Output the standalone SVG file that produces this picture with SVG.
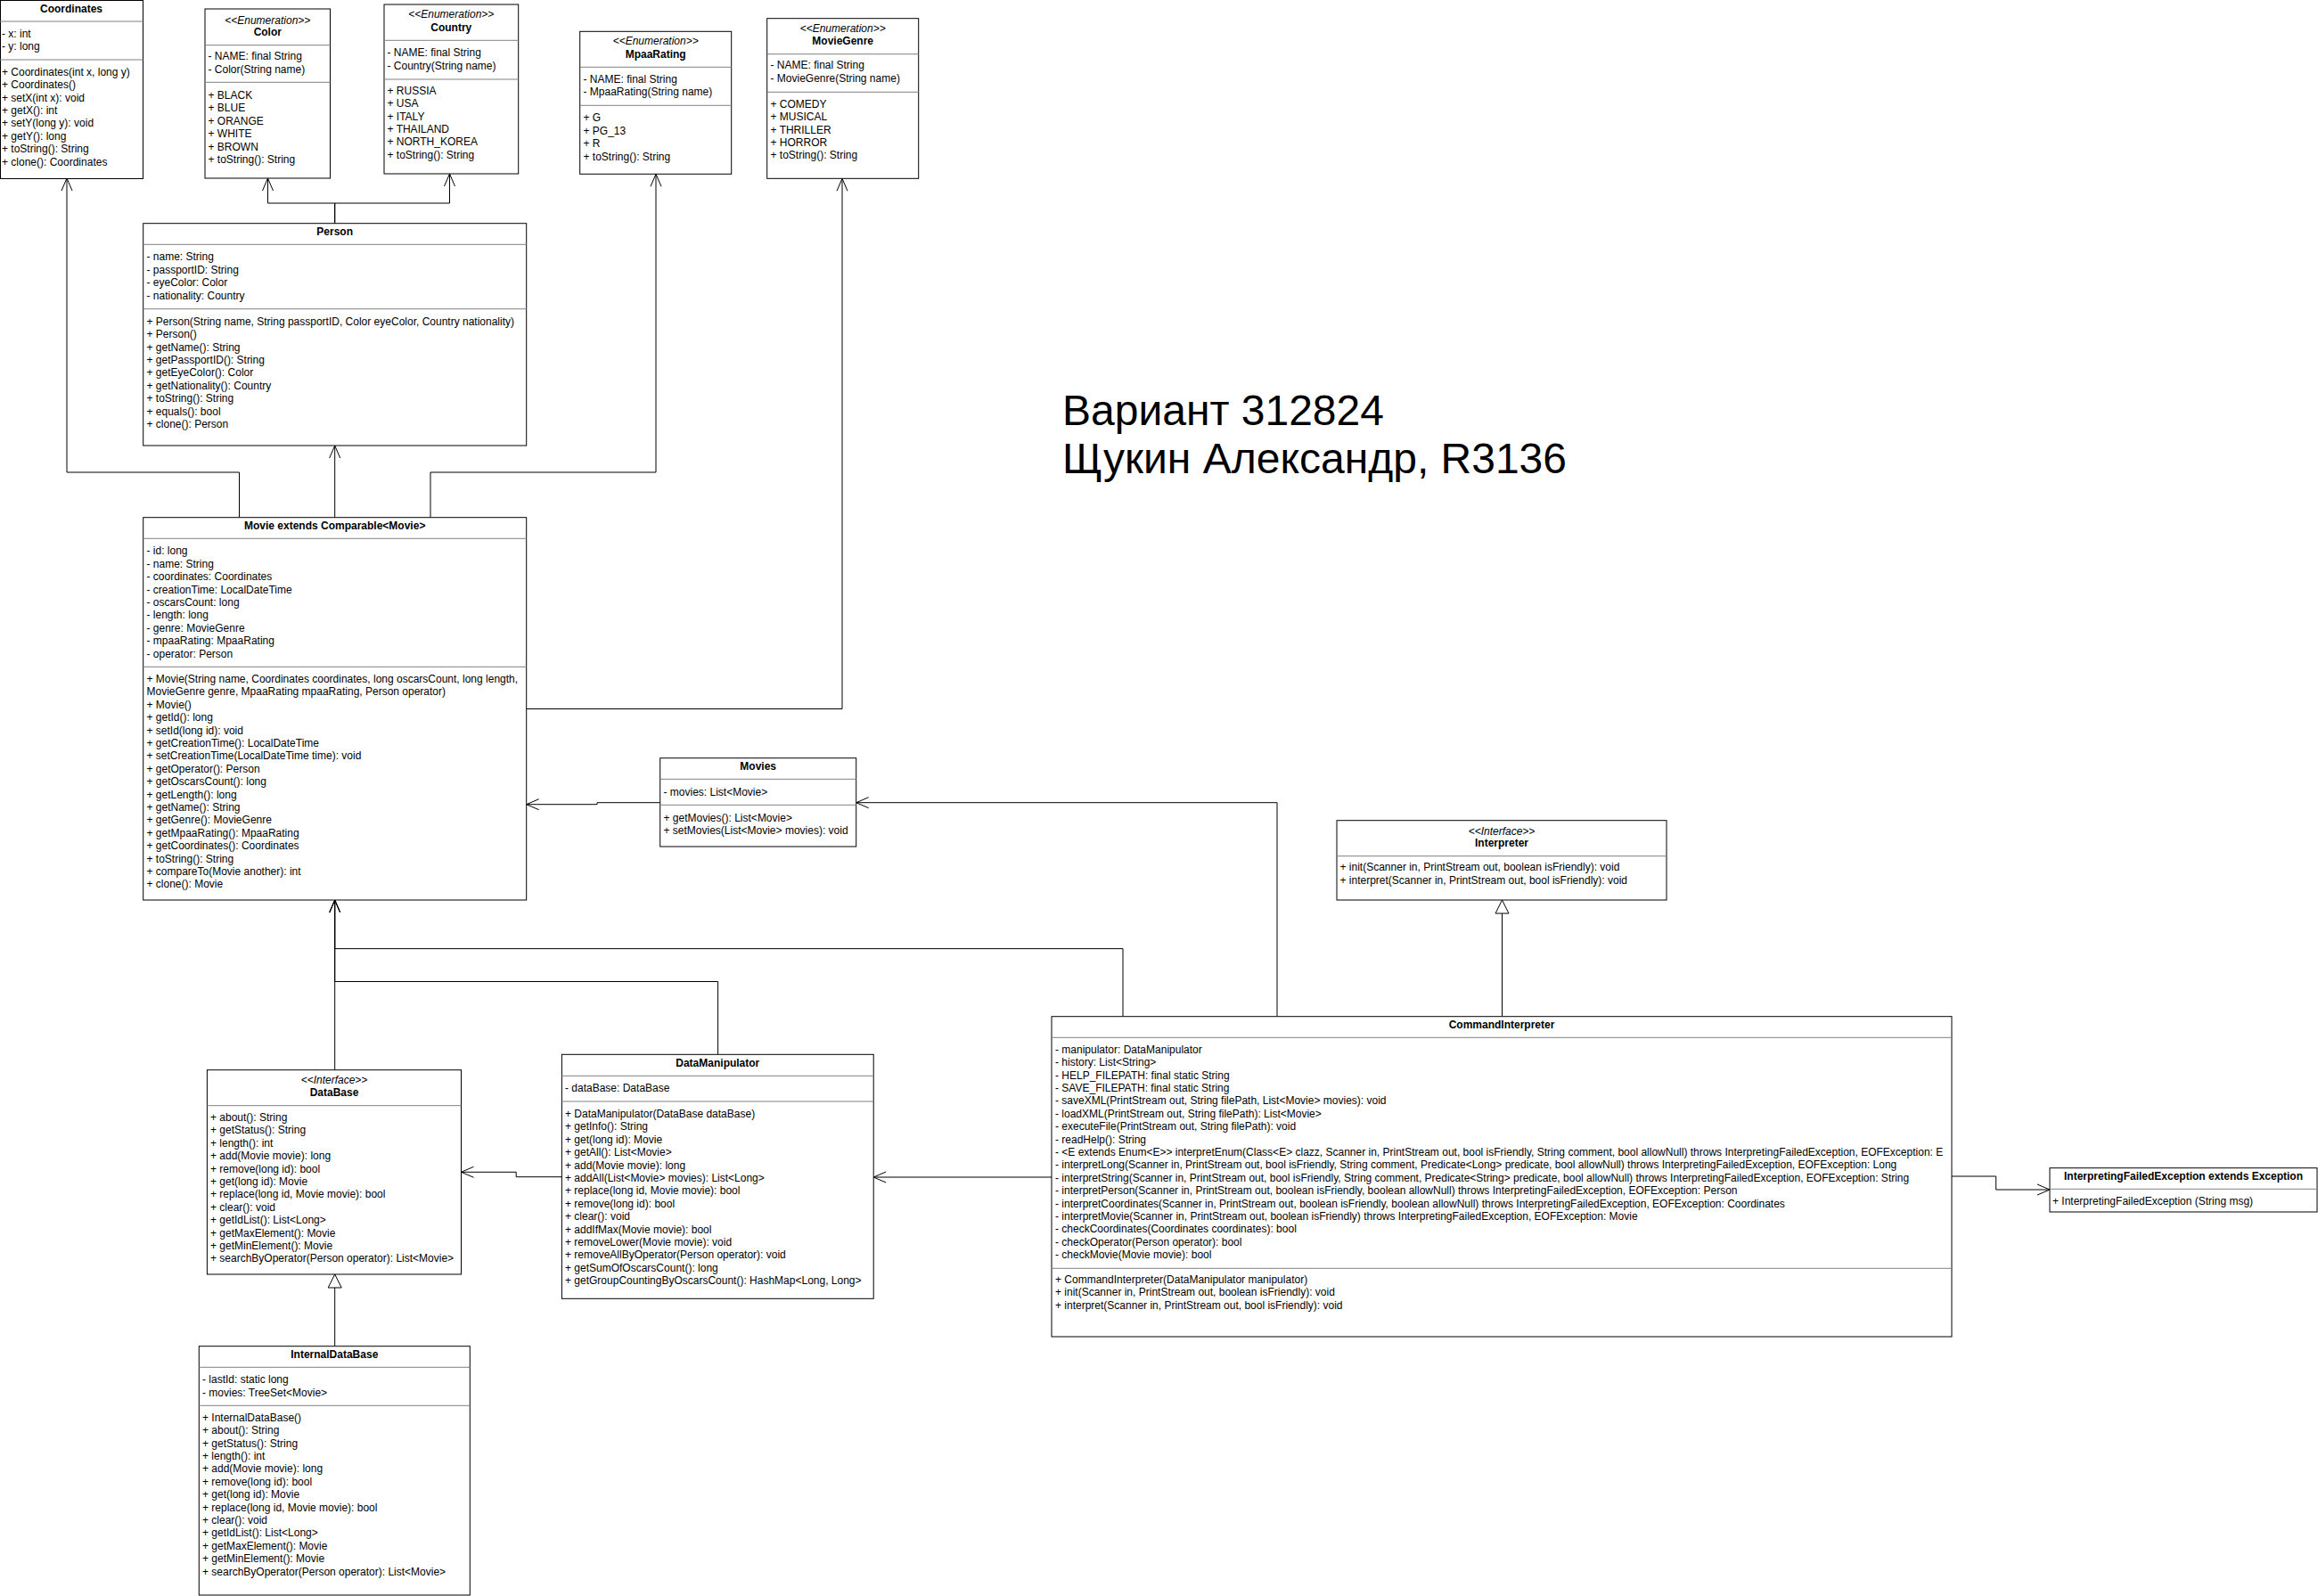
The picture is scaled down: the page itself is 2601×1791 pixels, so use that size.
<svg xmlns="http://www.w3.org/2000/svg" width="2601" height="1791" viewBox="0 0 2601 1791">
<style>
.box{fill:#fff;stroke:#000;stroke-width:1}
.sep{stroke:#808080;stroke-width:1}
text{font-family:"Liberation Sans",Arial,Helvetica,sans-serif;font-size:12px;fill:#000}
.b{font-weight:bold;text-anchor:middle}
.i{font-style:italic;text-anchor:middle}
.edge{fill:none;stroke:#000;stroke-width:1}
.open{marker-end:url(#open)}
.inh{marker-end:url(#tri)}
.title{font-size:48px}
</style>
<defs>
<marker id="open" markerUnits="userSpaceOnUse" markerWidth="16" markerHeight="14" refX="14" refY="6.5" orient="auto" overflow="visible">
<path d="M0,0.5 L14,6.5 L0,12.5" fill="none" stroke="#000" stroke-width="1"/>
</marker>
<marker id="tri" markerUnits="userSpaceOnUse" markerWidth="17" markerHeight="17" refX="15" refY="7.5" orient="auto" overflow="visible">
<path d="M0,0 L15,7.5 L0,15 Z" fill="#fff" stroke="#000" stroke-width="1"/>
</marker>
</defs>

<g id="connectors">
<path class="edge open" d="M268.5,580.7 V530 H75 V200"/>
<path class="edge open" d="M483,580.7 V530 H736 V195.3"/>
<path class="edge open" d="M375.7,580.7 V500"/>
<path class="edge open" d="M375.7,250.7 V228 H300.5 V200"/>
<path class="edge open" d="M375.7,250.7 V228 H504.5 V195"/>
<path class="edge open" d="M590.7,795.5 H945 V200.3"/>
<path class="edge open" d="M740.7,900.7 H670 V902.7 H590.7"/>
<path class="edge open" d="M1433,1140.7 V900.7 H960.7"/>
<path class="edge inh" d="M1685.5,1140.7 V1010"/>
<path class="edge open" d="M1260,1140.7 V1064.6 H375.7 V1010"/>
<path class="edge open" d="M805.6,1183.3 V1101.5 H375.7 V1010"/>
<path class="edge open" d="M375.7,1200.7 V1010"/>
<path class="edge open" d="M1180,1321 H980.2"/>
<path class="edge open" d="M630.4,1320.7 H579.2 V1315.3 H517.5"/>
<path class="edge inh" d="M375.7,1510.7 V1430"/>
<path class="edge open" d="M2190,1320 H2239.7 V1335 H2300"/>
</g>

<g id="Coordinates">
<rect class="box" x="0.5" y="0.5" width="160" height="200"/>
<line class="sep" x1="0" y1="24" x2="160.5" y2="24"/>
<line class="sep" x1="0" y1="67" x2="160.5" y2="67"/>
<text class="b" x="80" y="14">Coordinates</text>
<text x="2"><tspan x="2" y="41.7">- x: int</tspan><tspan x="2" y="56.2">- y: long</tspan></text>
<text x="2"><tspan x="2" y="84.7">+ Coordinates(int x, long y)</tspan><tspan x="2" y="99.1">+ Coordinates()</tspan><tspan x="2" y="113.5">+ setX(int x): void</tspan><tspan x="2" y="127.9">+ getX(): int</tspan><tspan x="2" y="142.3">+ setY(long y): void</tspan><tspan x="2" y="156.7">+ getY(): long</tspan><tspan x="2" y="171.1">+ toString(): String</tspan><tspan x="2" y="185.5">+ clone(): Coordinates</tspan></text>
</g>

<g id="Color">
<rect class="box" x="230" y="10" width="140.5" height="190"/>
<line class="sep" x1="230" y1="50.7" x2="370.5" y2="50.7"/>
<line class="sep" x1="230" y1="92.3" x2="370.5" y2="92.3"/>
<text class="i" x="300.3" y="26.7">&lt;&lt;Enumeration&gt;&gt;</text>
<text class="b" x="300.3" y="40">Color</text>
<text><tspan x="233.5" y="67.3">- NAME: final String</tspan><tspan x="233.5" y="81.7">- Color(String name)</tspan></text>
<text><tspan x="233.5" y="111">+ BLACK</tspan><tspan x="233.5" y="125.4">+ BLUE</tspan><tspan x="233.5" y="139.8">+ ORANGE</tspan><tspan x="233.5" y="154.2">+ WHITE</tspan><tspan x="233.5" y="168.6">+ BROWN</tspan><tspan x="233.5" y="183">+ toString(): String</tspan></text>
</g>

<g id="Country">
<rect class="box" x="431" y="5" width="150.7" height="190"/>
<line class="sep" x1="431" y1="45.3" x2="581.7" y2="45.3"/>
<line class="sep" x1="431" y1="89" x2="581.7" y2="89"/>
<text class="i" x="506.3" y="19.7">&lt;&lt;Enumeration&gt;&gt;</text>
<text class="b" x="506.3" y="35">Country</text>
<text><tspan x="434.5" y="63">- NAME: final String</tspan><tspan x="434.5" y="77.5">- Country(String name)</tspan></text>
<text><tspan x="434.5" y="105.7">+ RUSSIA</tspan><tspan x="434.5" y="120.1">+ USA</tspan><tspan x="434.5" y="134.5">+ ITALY</tspan><tspan x="434.5" y="148.9">+ THAILAND</tspan><tspan x="434.5" y="163.3">+ NORTH_KOREA</tspan><tspan x="434.5" y="177.7">+ toString(): String</tspan></text>
</g>

<g id="MpaaRating">
<rect class="box" x="650.7" y="35.3" width="170" height="160"/>
<line class="sep" x1="650.7" y1="75.3" x2="820.7" y2="75.3"/>
<line class="sep" x1="650.7" y1="118.3" x2="820.7" y2="118.3"/>
<text class="i" x="735.7" y="49.7">&lt;&lt;Enumeration&gt;&gt;</text>
<text class="b" x="735.7" y="65.3">MpaaRating</text>
<text><tspan x="654.5" y="92.7">- NAME: final String</tspan><tspan x="654.5" y="107.1">- MpaaRating(String name)</tspan></text>
<text><tspan x="654.5" y="136.3">+ G</tspan><tspan x="654.5" y="150.7">+ PG_13</tspan><tspan x="654.5" y="165.1">+ R</tspan><tspan x="654.5" y="179.5">+ toString(): String</tspan></text>
</g>

<g id="MovieGenre">
<rect class="box" x="860.7" y="20.7" width="170" height="179.6"/>
<line class="sep" x1="860.7" y1="60.7" x2="1030.7" y2="60.7"/>
<line class="sep" x1="860.7" y1="103.3" x2="1030.7" y2="103.3"/>
<text class="i" x="945.7" y="35.7">&lt;&lt;Enumeration&gt;&gt;</text>
<text class="b" x="945.7" y="50">MovieGenre</text>
<text><tspan x="864.5" y="77.3">- NAME: final String</tspan><tspan x="864.5" y="91.7">- MovieGenre(String name)</tspan></text>
<text><tspan x="864.5" y="120.7">+ COMEDY</tspan><tspan x="864.5" y="135.1">+ MUSICAL</tspan><tspan x="864.5" y="149.5">+ THRILLER</tspan><tspan x="864.5" y="163.9">+ HORROR</tspan><tspan x="864.5" y="178.3">+ toString(): String</tspan></text>
</g>

<g id="Person">
<rect class="box" x="160.7" y="250.7" width="430" height="249.3"/>
<line class="sep" x1="160.7" y1="274.3" x2="590.7" y2="274.3"/>
<line class="sep" x1="160.7" y1="346.7" x2="590.7" y2="346.7"/>
<text class="b" x="375.7" y="264">Person</text>
<text><tspan x="164.5" y="292.3">- name: String</tspan><tspan x="164.5" y="306.7">- passportID: String</tspan><tspan x="164.5" y="321.1">- eyeColor: Color</tspan><tspan x="164.5" y="335.5">- nationality: Country</tspan></text>
<text><tspan x="164.5" y="364.7">+ Person(String name, String passportID, Color eyeColor, Country nationality)</tspan><tspan x="164.5" y="379.1">+ Person()</tspan><tspan x="164.5" y="393.5">+ getName(): String</tspan><tspan x="164.5" y="407.9">+ getPassportID(): String</tspan><tspan x="164.5" y="422.3">+ getEyeColor(): Color</tspan><tspan x="164.5" y="436.7">+ getNationality(): Country</tspan><tspan x="164.5" y="451.1">+ toString(): String</tspan><tspan x="164.5" y="465.5">+ equals(): bool</tspan><tspan x="164.5" y="479.9">+ clone(): Person</tspan></text>
</g>

<g id="Movie">
<rect class="box" x="160.7" y="580.7" width="430" height="429.3"/>
<line class="sep" x1="160.7" y1="604.3" x2="590.7" y2="604.3"/>
<line class="sep" x1="160.7" y1="748.3" x2="590.7" y2="748.3"/>
<text class="b" x="375.7" y="594">Movie extends Comparable&lt;Movie&gt;</text>
<text><tspan x="164.5" y="622.3">- id: long</tspan><tspan x="164.5" y="636.7">- name: String</tspan><tspan x="164.5" y="651.1">- coordinates: Coordinates</tspan><tspan x="164.5" y="665.5">- creationTime: LocalDateTime</tspan><tspan x="164.5" y="679.9">- oscarsCount: long</tspan><tspan x="164.5" y="694.3">- length: long</tspan><tspan x="164.5" y="708.7">- genre: MovieGenre</tspan><tspan x="164.5" y="723.1">- mpaaRating: MpaaRating</tspan><tspan x="164.5" y="737.5">- operator: Person</tspan></text>
<text><tspan x="164.5" y="766">+ Movie(String name, Coordinates coordinates, long oscarsCount, long length,</tspan><tspan x="164.5" y="780.4">MovieGenre genre, MpaaRating mpaaRating, Person operator)</tspan><tspan x="164.5" y="794.8">+ Movie()</tspan><tspan x="164.5" y="809.2">+ getId(): long</tspan><tspan x="164.5" y="823.6">+ setId(long id): void</tspan><tspan x="164.5" y="838">+ getCreationTime(): LocalDateTime</tspan><tspan x="164.5" y="852.4">+ setCreationTime(LocalDateTime time): void</tspan><tspan x="164.5" y="866.8">+ getOperator(): Person</tspan><tspan x="164.5" y="881.2">+ getOscarsCount(): long</tspan><tspan x="164.5" y="895.6">+ getLength(): long</tspan><tspan x="164.5" y="910">+ getName(): String</tspan><tspan x="164.5" y="924.4">+ getGenre(): MovieGenre</tspan><tspan x="164.5" y="938.8">+ getMpaaRating(): MpaaRating</tspan><tspan x="164.5" y="953.2">+ getCoordinates(): Coordinates</tspan><tspan x="164.5" y="967.6">+ toString(): String</tspan><tspan x="164.5" y="982">+ compareTo(Movie another): int</tspan><tspan x="164.5" y="996.4">+ clone(): Movie</tspan></text>
</g>

<g id="Movies">
<rect class="box" x="740.7" y="850.7" width="220" height="99.3"/>
<line class="sep" x1="740.7" y1="874.3" x2="960.7" y2="874.3"/>
<line class="sep" x1="740.7" y1="903.3" x2="960.7" y2="903.3"/>
<text class="b" x="850.7" y="864">Movies</text>
<text><tspan x="744.5" y="893.3">- movies: List&lt;Movie&gt;</tspan></text>
<text><tspan x="744.5" y="921.7">+ getMovies(): List&lt;Movie&gt;</tspan><tspan x="744.5" y="936.1">+ setMovies(List&lt;Movie&gt; movies): void</tspan></text>
</g>

<g id="Interpreter">
<rect class="box" x="1500" y="920.7" width="370" height="89.3"/>
<line class="sep" x1="1500" y1="960.7" x2="1870" y2="960.7"/>
<text class="i" x="1685" y="936.7">&lt;&lt;Interface&gt;&gt;</text>
<text class="b" x="1685" y="950">Interpreter</text>
<text><tspan x="1503.5" y="977.3">+ init(Scanner in, PrintStream out, boolean isFriendly): void</tspan><tspan x="1503.5" y="991.7">+ interpret(Scanner in, PrintStream out, bool isFriendly): void</tspan></text>
</g>

<g id="DataBase">
<rect class="box" x="232.4" y="1200.7" width="285.1" height="229.3"/>
<line class="sep" x1="232.4" y1="1240.7" x2="517.5" y2="1240.7"/>
<text class="i" x="375" y="1215.7">&lt;&lt;Interface&gt;&gt;</text>
<text class="b" x="375" y="1230">DataBase</text>
<text><tspan x="236" y="1258">+ about(): String</tspan><tspan x="236" y="1272.4">+ getStatus(): String</tspan><tspan x="236" y="1286.8">+ length(): int</tspan><tspan x="236" y="1301.2">+ add(Movie movie): long</tspan><tspan x="236" y="1315.6">+ remove(long id): bool</tspan><tspan x="236" y="1330">+ get(long id): Movie</tspan><tspan x="236" y="1344.4">+ replace(long id, Movie movie): bool</tspan><tspan x="236" y="1358.8">+ clear(): void</tspan><tspan x="236" y="1373.2">+ getIdList(): List&lt;Long&gt;</tspan><tspan x="236" y="1387.6">+ getMaxElement(): Movie</tspan><tspan x="236" y="1402">+ getMinElement(): Movie</tspan><tspan x="236" y="1416.4">+ searchByOperator(Person operator): List&lt;Movie&gt;</tspan></text>
</g>

<g id="DataManipulator">
<rect class="box" x="630.4" y="1183.3" width="349.8" height="274"/>
<line class="sep" x1="630.4" y1="1207.3" x2="980.2" y2="1207.3"/>
<line class="sep" x1="630.4" y1="1236" x2="980.2" y2="1236"/>
<text class="b" x="805.3" y="1196.7">DataManipulator</text>
<text><tspan x="634" y="1225">- dataBase: DataBase</tspan></text>
<text><tspan x="634" y="1254">+ DataManipulator(DataBase dataBase)</tspan><tspan x="634" y="1268.4">+ getInfo(): String</tspan><tspan x="634" y="1282.8">+ get(long id): Movie</tspan><tspan x="634" y="1297.2">+ getAll(): List&lt;Movie&gt;</tspan><tspan x="634" y="1311.6">+ add(Movie movie): long</tspan><tspan x="634" y="1326">+ addAll(List&lt;Movie&gt; movies): List&lt;Long&gt;</tspan><tspan x="634" y="1340.4">+ replace(long id, Movie movie): bool</tspan><tspan x="634" y="1354.8">+ remove(long id): bool</tspan><tspan x="634" y="1369.2">+ clear(): void</tspan><tspan x="634" y="1383.6">+ addIfMax(Movie movie): bool</tspan><tspan x="634" y="1398">+ removeLower(Movie movie): void</tspan><tspan x="634" y="1412.4">+ removeAllByOperator(Person operator): void</tspan><tspan x="634" y="1426.8">+ getSumOfOscarsCount(): long</tspan><tspan x="634" y="1441.2">+ getGroupCountingByOscarsCount(): HashMap&lt;Long, Long&gt;</tspan></text>
</g>

<g id="InternalDataBase">
<rect class="box" x="223.3" y="1510.7" width="304" height="279.3"/>
<line class="sep" x1="223.3" y1="1534.3" x2="527.3" y2="1534.3"/>
<line class="sep" x1="223.3" y1="1577.3" x2="527.3" y2="1577.3"/>
<text class="b" x="375.3" y="1524">InternalDataBase</text>
<text><tspan x="227" y="1552.3">- lastId: static long</tspan><tspan x="227" y="1566.7">- movies: TreeSet&lt;Movie&gt;</tspan></text>
<text><tspan x="227" y="1594.7">+ InternalDataBase()</tspan><tspan x="227" y="1609.1">+ about(): String</tspan><tspan x="227" y="1623.5">+ getStatus(): String</tspan><tspan x="227" y="1637.9">+ length(): int</tspan><tspan x="227" y="1652.3">+ add(Movie movie): long</tspan><tspan x="227" y="1666.7">+ remove(long id): bool</tspan><tspan x="227" y="1681.1">+ get(long id): Movie</tspan><tspan x="227" y="1695.5">+ replace(long id, Movie movie): bool</tspan><tspan x="227" y="1709.9">+ clear(): void</tspan><tspan x="227" y="1724.3">+ getIdList(): List&lt;Long&gt;</tspan><tspan x="227" y="1738.7">+ getMaxElement(): Movie</tspan><tspan x="227" y="1753.1">+ getMinElement(): Movie</tspan><tspan x="227" y="1767.5">+ searchByOperator(Person operator): List&lt;Movie&gt;</tspan></text>
</g>

<g id="CommandInterpreter">
<rect class="box" x="1180" y="1140.7" width="1010" height="359.3"/>
<line class="sep" x1="1180" y1="1164.3" x2="2190" y2="1164.3"/>
<line class="sep" x1="1180" y1="1423.3" x2="2190" y2="1423.3"/>
<text class="b" x="1685" y="1154">CommandInterpreter</text>
<text><tspan x="1184" y="1181.7">- manipulator: DataManipulator</tspan><tspan x="1184" y="1196.1">- history: List&lt;String&gt;</tspan><tspan x="1184" y="1210.5">- HELP_FILEPATH: final static String</tspan><tspan x="1184" y="1224.9">- SAVE_FILEPATH: final static String</tspan><tspan x="1184" y="1239.3">- saveXML(PrintStream out, String filePath, List&lt;Movie&gt; movies): void</tspan><tspan x="1184" y="1253.7">- loadXML(PrintStream out, String filePath): List&lt;Movie&gt;</tspan><tspan x="1184" y="1268.1">- executeFile(PrintStream out, String filePath): void</tspan><tspan x="1184" y="1282.5">- readHelp(): String</tspan><tspan x="1184" y="1296.9">- &lt;E extends Enum&lt;E&gt;&gt; interpretEnum(Class&lt;E&gt; clazz, Scanner in, PrintStream out, bool isFriendly, String comment, bool allowNull) throws InterpretingFailedException, EOFException: E</tspan><tspan x="1184" y="1311.3">- interpretLong(Scanner in, PrintStream out, bool isFriendly, String comment, Predicate&lt;Long&gt; predicate, bool allowNull) throws InterpretingFailedException, EOFException: Long</tspan><tspan x="1184" y="1325.7">- interpretString(Scanner in, PrintStream out, bool isFriendly, String comment, Predicate&lt;String&gt; predicate, bool allowNull) throws InterpretingFailedException, EOFException: String</tspan><tspan x="1184" y="1340.1">- interpretPerson(Scanner in, PrintStream out, boolean isFriendly, boolean allowNull) throws InterpretingFailedException, EOFException: Person</tspan><tspan x="1184" y="1354.5">- interpretCoordinates(Scanner in, PrintStream out, boolean isFriendly, boolean allowNull) throws InterpretingFailedException, EOFException: Coordinates</tspan><tspan x="1184" y="1368.9">- interpretMovie(Scanner in, PrintStream out, boolean isFriendly) throws InterpretingFailedException, EOFException: Movie</tspan><tspan x="1184" y="1383.3">- checkCoordinates(Coordinates coordinates): bool</tspan><tspan x="1184" y="1397.7">- checkOperator(Person operator): bool</tspan><tspan x="1184" y="1412.1">- checkMovie(Movie movie): bool</tspan></text>
<text><tspan x="1184" y="1440">+ CommandInterpreter(DataManipulator manipulator)</tspan><tspan x="1184" y="1454.4">+ init(Scanner in, PrintStream out, boolean isFriendly): void</tspan><tspan x="1184" y="1468.8">+ interpret(Scanner in, PrintStream out, bool isFriendly): void</tspan></text>
</g>

<g id="InterpretingFailedException">
<rect class="box" x="2300" y="1310.7" width="300" height="49.3"/>
<line class="sep" x1="2300" y1="1334.3" x2="2600" y2="1334.3"/>
<text class="b" x="2450" y="1324">InterpretingFailedException extends Exception</text>
<text><tspan x="2303" y="1352.3">+ InterpretingFailedException (String msg)</tspan></text>
</g>

<g id="caption">
<text class="title" x="1192" y="477">Вариант 312824</text>
<text class="title" x="1192" y="531">Щукин Александр, R3136</text>
</g>
</svg>
